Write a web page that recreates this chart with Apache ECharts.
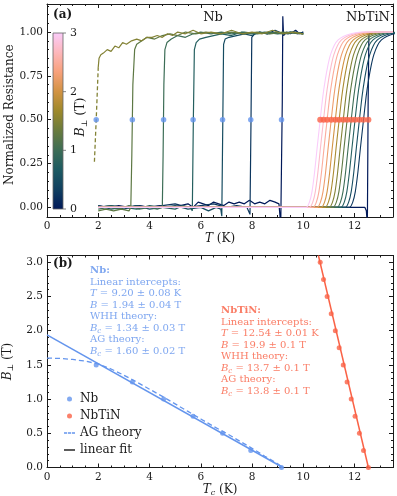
<!DOCTYPE html>
<html>
<head>
<meta charset="utf-8">
<script src="https://cdn.jsdelivr.net/npm/echarts@6/dist/echarts.min.js"></script>
<style>
    html, body {margin:0;padding:0;background:#fff;}
    #chart {width:397px;height:496px;}
</style>
</head>
<body>
<div id="chart"></div>
<script>
    // ---- colour scale (batlow) and field steps ----
    var batlowStops = ['#011959', '#103f60', '#1c5a62', '#3c6d56', '#687b3e', '#9d892b', '#d29343', '#f8a17b', '#fdb7bc', '#faccfa'];
    var fieldColors = ['#011959', '#0c365e', '#164c61', '#245f5f', '#3c6d56', '#5d7844', '#838235', '#aa8b31', '#d29343', '#ee9e6d', '#fbac9c', '#fcbccc', '#faccfa'];

    // ---- Nb : critical temperatures and fields ----
    var nbTc = [9.15, 7.95, 6.85, 5.70, 4.55, 3.33, 1.92];
    var nbField = [0, 0.25, 0.5, 0.75, 1.0, 1.25, 1.5];

    // ---- NbTiN : critical temperatures and fields ----
    var nbtinTc = [12.54, 12.35, 12.19, 12.02, 11.87, 11.71, 11.56, 11.40, 11.25, 11.09, 10.93, 10.79, 10.66];
    var nbtinField = [0, 0.25, 0.5, 0.75, 1.0, 1.25, 1.5, 1.75, 2.0, 2.25, 2.5, 2.75, 3.0];

    // ---- Nb resistance curves R(T), one per field ----
    var nbCurve0 = [[2.0,0.01],[2.4,0.0],[2.8,0.01],[3.2,0.0],[3.6,0.01],[4.0,0.0],[4.4,0.01],[4.8,0.0],[5.2,0.01],[5.5,0.02],[5.7,0.0],[5.9,0.03],[6.1,0.02],[6.3,0.01],[6.5,0.03],[6.7,0.02],[6.9,0.01],[7.1,0.03],[7.3,0.02],[7.5,0.03],[7.7,0.02],[7.9,0.04],[8.1,0.02],[8.3,0.03],[8.5,0.02],[8.7,0.04],[8.9,0.03],[9.05,0.02],[9.12,-0.1],[9.18,0.6],[9.2,1.09],[9.23,0.98],[9.35,1.0],[9.5,0.99],[9.7,1.01],[9.85,0.99],[10.0,1.0]];
    var nbCurve1 = [[2.0,0.0],[2.5,0.01],[3.0,-0.01],[3.5,0.01],[4.0,0.0],[4.5,0.01],[5.0,0.02],[5.5,0.0],[6.0,0.01],[6.5,0.02],[7.0,0.0],[7.4,0.01],[7.8,0.0],[7.92,-0.04],[7.96,0.5],[7.99,0.97],[8.1,0.99],[8.3,1.0],[8.6,0.99],[8.9,1.01],[9.2,0.99],[9.5,1.0],[9.8,0.99],[10.0,1.0]];
    var nbCurve2 = [[2.0,0.01],[2.5,-0.01],[3.0,0.0],[3.5,0.01],[4.0,-0.01],[4.5,0.0],[5.0,0.01],[5.5,-0.01],[6.0,0.0],[6.3,-0.02],[6.6,0.0],[6.78,-0.01],[6.82,-0.05],[6.86,0.5],[6.89,0.93],[6.95,0.96],[7.1,0.97],[7.4,0.98],[7.7,0.99],[8.0,0.98],[8.3,1.0],[8.6,0.99],[9.0,1.0],[9.4,0.99],[9.7,1.0],[10.0,0.99]];
    var nbCurve3 = [[2.0,0.0],[2.5,0.01],[3.0,0.0],[3.5,-0.01],[4.0,0.01],[4.5,0.0],[5.0,-0.01],[5.3,0.01],[5.6,0.0],[5.67,-0.02],[5.71,0.5],[5.75,0.9],[5.82,0.94],[5.95,0.96],[6.2,0.97],[6.5,0.98],[6.8,0.99],[7.2,0.98],[7.6,1.0],[8.0,0.99],[8.5,1.0],[9.0,0.99],[9.5,1.0],[10.0,0.99]];
    var nbCurve4 = [[2.0,-0.01],[2.4,0.0],[2.8,-0.01],[3.2,0.01],[3.6,-0.01],[4.0,0.0],[4.3,-0.01],[4.5,0.0],[4.53,0.3],[4.56,0.7],[4.6,0.9],[4.68,0.94],[4.85,0.96],[5.1,0.98],[5.4,0.97],[5.7,0.99],[6.0,1.0],[6.4,0.99],[6.8,1.0],[7.2,0.99],[7.7,1.0],[8.2,0.99],[8.7,1.0],[9.2,0.99],[9.6,1.0],[10.0,0.99]];
    var nbCurve5 = [[2.0,-0.02],[2.3,-0.01],[2.6,-0.02],[2.9,-0.01],[3.2,-0.02],[3.27,0.0],[3.31,0.3],[3.35,0.7],[3.42,0.9],[3.5,0.93],[3.7,0.95],[3.9,0.97],[4.2,0.96],[4.5,0.98],[4.8,0.99],[5.1,0.98],[5.4,1.0],[5.8,0.99],[6.2,1.0],[6.7,0.99],[7.2,1.0],[7.7,0.99],[8.2,1.0],[8.7,0.99],[9.2,1.0],[10.0,0.99]];
    var nbCurve6 = [[2.0,0.8],[2.03,0.85],[2.1,0.87],[2.2,0.88],[2.35,0.9],[2.5,0.89],[2.65,0.92],[2.8,0.91],[2.95,0.94],[3.1,0.93],[3.3,0.95],[3.5,0.96],[3.7,0.95],[3.9,0.97],[4.1,0.97],[4.3,0.98],[4.5,0.97],[4.7,0.99],[4.9,0.98],[5.1,1.0],[5.4,0.99],[5.7,1.01],[6.0,0.99],[6.4,1.0],[6.8,0.99],[7.2,1.01],[7.6,0.99],[8.0,1.0],[8.4,0.99],[8.8,1.01],[9.2,0.99],[9.6,1.0],[10.0,0.99]];
    var nbCurve6Extrap = [[1.85,0.26],[1.92,0.5],[2.0,0.8]];
    var nbCurves = [nbCurve0, nbCurve1, nbCurve2, nbCurve3, nbCurve4, nbCurve5, nbCurve6];

    // ---- NbTiN transitions: zero-field curve and the common transition shape (T - Tc, R) ----
    var nbtinCurve0 = [[2.0,0.0],[12.4,0.0],[12.46,-0.02],[12.5,-0.1],[12.53,0.6],[12.56,0.99],[12.8,1.0],[13.5,1.0]];
    var nbtinShapeDT = [-0.55, -0.42, -0.32, -0.22, -0.12, 0, 0.1, 0.2, 0.3, 0.4, 0.55, 0.7, 0.9, 1.2, 1.6];
    var nbtinShapeR = [0, 0.03, 0.09, 0.2, 0.34, 0.5, 0.63, 0.73, 0.81, 0.87, 0.925, 0.955, 0.975, 0.99, 1.0];

    // ---- panel (b): fits and AG theory ----
    var nbFitT = [0, 9.20];
    var nbFitB = [1.94, 0];
    var nbtinFitT = [10.59, 12.54];
    var nbtinFitB = [3.1, 0];
    var agT = [0, 0.5, 1.0, 1.5, 2.0, 2.5, 3.0, 3.5, 4.0, 4.5, 5.0, 5.5, 6.0, 6.5, 7.0, 7.5, 8.0, 8.5, 9.0, 9.2];
    var agB = [1.60, 1.595, 1.58, 1.555, 1.515, 1.44, 1.35, 1.25, 1.145, 1.04, 0.93, 0.82, 0.71, 0.60, 0.50, 0.39, 0.28, 0.165, 0.055, 0];

    // ---- tick labels ----
    var resTicks = [0, 0.25, 0.5, 0.75, 1.0];
    var fieldTicks = [0, 1, 2, 3];

    var serif = 'DejaVu Serif';
    var ink = '#1a1a1a';
    var nbBlue = '#6495ed';
    var nbtinRed = '#fa6246';

    // panel (a) resistance axis range; a tick grid whose bottom sits at R = 0 carries the ticks
    var resMin = -0.055, resMax = 1.16;
    var gridA = {left: 47, top: 4, width: 346, height: 213, outerBoundsMode: 'none'};
    var pxPerRes = gridA.height / (resMax - resMin);

    function zip(xs, ys) {
        return xs.map(function (x, i) { return [x, ys[i]]; });
    }

    function nbtinCurve(tc) {
        var pts = [[2.0, 0.0]];
        for (var k = 0; k < nbtinShapeDT.length; k++) {
            pts.push([tc + nbtinShapeDT[k], nbtinShapeR[k]]);
        }
        if (tc + nbtinShapeDT[nbtinShapeDT.length - 1] < 13.5) pts.push([13.5, 1.0]);
        return pts;
    }

    var line = {show: true, onZero: false, lineStyle: {color: ink, width: 1}};
    var noLine = {show: false, onZero: false};
    var majorTick = {inside: true, length: 4, lineStyle: {color: ink}};
    var minorTick = {inside: true, length: 2, lineStyle: {color: ink}};
    var tickFont = {fontFamily: serif, fontSize: 10.5, color: ink};

    // four framing axes (two with labels) for each grid
    function xAxesFor(g, name, gap) {
        var base = {type: 'value', gridIndex: g, min: 0, max: 13.5, splitLine: {show: false}};
        return [
            Object.assign({}, base, {
                position: 'bottom', interval: 2, axisLine: line, axisTick: majorTick,
                axisLabel: Object.assign({margin: 4, showMaxLabel: false}, tickFont),
                name: name, nameLocation: 'middle', nameGap: gap,
                nameTextStyle: {fontFamily: serif, fontSize: 12, color: ink, rich: {
                    i: {fontFamily: serif, fontSize: 12, fontStyle: 'italic', color: ink},
                    s: {fontFamily: serif, fontSize: 8, fontStyle: 'italic', color: ink, padding: [7, 0, 0, 0]}
                }}
            }),
            Object.assign({}, base, {position: 'top', interval: 2, axisLine: line, axisTick: majorTick, axisLabel: {show: false}}),
            Object.assign({}, base, {position: 'bottom', interval: 0.5, axisLine: noLine, axisTick: minorTick, axisLabel: {show: false}}),
            Object.assign({}, base, {position: 'top', interval: 0.5, axisLine: noLine, axisTick: minorTick, axisLabel: {show: false}})
        ];
    }

    var yNameStyle = {fontFamily: serif, fontSize: 12, color: ink, rich: {
        i: {fontFamily: serif, fontSize: 12, fontStyle: 'italic', color: ink},
        s: {fontFamily: serif, fontSize: 8, color: ink, padding: [7, 0, 0, 0]}
    }};

    function resTickAxis(pos, step, len) {
        return {type: 'value', gridIndex: 2, position: pos, min: 0, max: resMax, interval: step,
            splitLine: {show: false}, axisLine: noLine,
            axisTick: {inside: true, length: len, lineStyle: {color: ink}}, axisLabel: {show: false}};
    }

    var yAxes = [
        // 0,1: panel (a) data axes (frame only)
        {type: 'value', gridIndex: 0, position: 'left', min: resMin, max: resMax, splitLine: {show: false},
            axisLine: line, axisTick: {show: false}, axisLabel: {show: false}},
        {type: 'value', gridIndex: 0, position: 'right', min: resMin, max: resMax, splitLine: {show: false},
            axisLine: line, axisTick: {show: false}, axisLabel: {show: false}},
        // 2-5: panel (b)
        {type: 'value', gridIndex: 1, position: 'left', min: 0, max: 3.1, interval: 0.5, splitLine: {show: false},
            axisLine: line, axisTick: majorTick,
            axisLabel: Object.assign({margin: 4, showMaxLabel: false, formatter: function (v) { return v.toFixed(1); }}, tickFont),
            name: '{i|B}{s|⊥} (T)', nameLocation: 'middle', nameGap: 24, nameTextStyle: yNameStyle},
        {type: 'value', gridIndex: 1, position: 'right', min: 0, max: 3.1, interval: 0.5, splitLine: {show: false},
            axisLine: line, axisTick: majorTick, axisLabel: {show: false}},
        {type: 'value', gridIndex: 1, position: 'left', min: 0, max: 3.1, interval: 0.1, splitLine: {show: false},
            axisLine: noLine, axisTick: minorTick, axisLabel: {show: false}},
        {type: 'value', gridIndex: 1, position: 'right', min: 0, max: 3.1, interval: 0.1, splitLine: {show: false},
            axisLine: noLine, axisTick: minorTick, axisLabel: {show: false}},
        // 6-9: panel (a) tick axes
        resTickAxis('left', 0.25, 4),
        resTickAxis('right', 0.25, 4),
        resTickAxis('left', 0.05, 2),
        resTickAxis('right', 0.05, 2)
    ];

    var xAxes = xAxesFor(0, '{i|T} (K)', 15).concat(xAxesFor(1, '{i|T}{s|c} (K)', 13));
    // hidden x axis for the tick grid
    xAxes.push({type: 'value', gridIndex: 2, min: 0, max: 13.5, show: false});

    var series = [];
    // Nb curves (panel a)
    nbCurves.forEach(function (c, i) {
        series.push({name: 'nb-' + nbField[i], type: 'line', xAxisIndex: 0, yAxisIndex: 0, data: c,
            symbol: 'none', silent: true, lineStyle: {width: 1.2, color: fieldColors[i]}, z: 2});
    });
    series.push({name: 'nb-extrap', type: 'line', xAxisIndex: 0, yAxisIndex: 0, data: nbCurve6Extrap,
        symbol: 'none', silent: true, lineStyle: {width: 1.3, color: fieldColors[6], type: [4, 2.5]}, z: 2});
    // NbTiN curves (panel a)
    series.push({name: 'nbtin-0', type: 'line', xAxisIndex: 0, yAxisIndex: 0, data: nbtinCurve0,
        symbol: 'none', silent: true, lineStyle: {width: 1.2, color: fieldColors[0]}, z: 2});
    for (var k = 1; k < nbtinTc.length; k++) {
        series.push({name: 'nbtin-' + nbtinField[k], type: 'line', xAxisIndex: 0, yAxisIndex: 0,
            data: nbtinCurve(nbtinTc[k]), smooth: 0.2, symbol: 'none', silent: true,
            lineStyle: {width: 1.1, color: fieldColors[k]}, z: 2});
    }
    // half-resistance points (panel a)
    series.push({name: 'nb-half', type: 'scatter', xAxisIndex: 0, yAxisIndex: 0, symbolSize: 5.5,
        data: nbTc.map(function (t) { return [t, 0.5]; }), itemStyle: {color: nbBlue}, z: 4});
    series.push({name: 'nbtin-half', type: 'scatter', xAxisIndex: 0, yAxisIndex: 0, symbolSize: 6,
        data: nbtinTc.map(function (t) { return [t, 0.5]; }), itemStyle: {color: nbtinRed}, z: 4});

    // panel (b)
    series.push({name: 'nb-fit', type: 'line', xAxisIndex: 4, yAxisIndex: 2, data: zip(nbFitT, nbFitB),
        symbol: 'none', lineStyle: {width: 1.5, color: nbBlue}, z: 2});
    series.push({name: 'AG theory', type: 'line', xAxisIndex: 4, yAxisIndex: 2, data: zip(agT, agB),
        symbol: 'none', color: nbBlue, lineStyle: {width: 1.3, color: nbBlue, type: [5, 3]}, z: 2});
    series.push({name: 'nbtin-fit', type: 'line', xAxisIndex: 4, yAxisIndex: 2, data: zip(nbtinFitT, nbtinFitB),
        symbol: 'none', lineStyle: {width: 1.5, color: nbtinRed}, z: 2});
    series.push({name: 'Nb', type: 'scatter', xAxisIndex: 4, yAxisIndex: 2, symbolSize: 5,
        data: zip(nbTc, nbField), itemStyle: {color: nbBlue}, z: 4});
    series.push({name: 'NbTiN', type: 'scatter', xAxisIndex: 4, yAxisIndex: 2, symbolSize: 5,
        data: zip(nbtinTc, nbtinField), itemStyle: {color: nbtinRed}, z: 4});
    series.push({name: 'linear fit', type: 'line', xAxisIndex: 4, yAxisIndex: 2, data: [],
        symbol: 'none', color: '#000', lineStyle: {width: 1.5, color: '#000'}});

    var chart = echarts.init(document.getElementById('chart'));
    chart.setOption({
        animation: false,
        backgroundColor: '#fff',
        grid: [
            gridA,
            {left: 47, top: 255.5, width: 346, height: 212, outerBoundsMode: 'none'},
            {left: gridA.left, top: gridA.top, width: gridA.width, height: resMax * pxPerRes, outerBoundsMode: 'none'}
        ],
        xAxis: xAxes,
        yAxis: yAxes,
        legend: {
            orient: 'vertical', left: 59, top: 388, itemWidth: 11, itemHeight: 5, itemGap: 5,
            textStyle: {fontFamily: serif, fontSize: 12, color: ink, lineHeight: 12},
            data: [
                {name: 'Nb', icon: 'circle'},
                {name: 'NbTiN', icon: 'circle'},
                {name: 'AG theory', icon: 'path://M0,0h3.4v1.4h-3.4z M4.3,0h3.4v1.4h-3.4z M8.6,0h3.4v1.4h-3.4z'},
                {name: 'linear fit', icon: 'path://M0,0h12v1.4h-12z'}
            ],
            selectedMode: false
        },
        series: series
    });

    // resistance tick labels and axis title placed through the panel (a) axes
    var resLabels = resTicks.map(function (v) {
        var p = chart.convertToPixel({xAxisIndex: 0, yAxisIndex: 0}, [0, v]);
        return {type: 'text', x: p[0] - 4, y: p[1], zlevel: 1, z: 100, silent: true,
            style: {text: '{n|' + v.toFixed(2) + '}', align: 'right', verticalAlign: 'middle',
                rich: {n: {font: '10.5px "DejaVu Serif"', fill: ink}}}};
    });
    var midA = chart.convertToPixel({xAxisIndex: 0, yAxisIndex: 0}, [0, 0.5]);
    resLabels.push({type: 'text', x: 10, y: midA[1] - 5, rotation: Math.PI / 2, zlevel: 1, z: 100, silent: true,
        style: {text: 'Normalized Resistance', font: '12px "DejaVu Serif"', fill: ink, align: 'center', verticalAlign: 'middle'}});

    // colour bar for the field
    var barTop = 33, barH = 176, barX = 53, barW = 10;
    var cbar = [{
        type: 'rect', shape: {x: barX, y: barTop, width: barW, height: barH},
        style: {fill: new echarts.graphic.LinearGradient(0, 1, 0, 0, batlowStops.map(function (c, i) {
            return {offset: i / (batlowStops.length - 1), color: c};
        })), stroke: '#666', lineWidth: 0.8}, z: 10
    }];
    fieldTicks.forEach(function (f) {
        var y = barTop + barH - f / 3 * barH;
        cbar.push({type: 'line', shape: {x1: barX + barW, y1: y, x2: barX + barW + 3, y2: y},
            style: {stroke: '#666', lineWidth: 0.8}, z: 10});
        cbar.push({type: 'text', x: barX + barW + 7, y: y,
            style: {text: String(f), font: '11px "DejaVu Serif"', fill: ink, verticalAlign: 'middle'}, z: 10});
    });
    cbar.push({type: 'text', x: 81, y: 117, rotation: Math.PI / 2,
        style: {text: '{i|B}{s|⊥} (T)', align: 'center', verticalAlign: 'middle', font: '12.5px "DejaVu Serif"', fill: ink,
            rich: {i: {font: 'italic 12.5px "DejaVu Serif"', fill: ink}, s: {font: '8px "DejaVu Serif"', fill: ink, padding: [7, 0, 0, 0]}}}, z: 10});

    var annRich = function (col) {
        return {
            b: {font: 'bold 10px "DejaVu Serif"', fill: col, lineHeight: 11.5},
            i: {font: 'italic 10px "DejaVu Serif"', fill: col, lineHeight: 11.5},
            s: {font: 'italic 7px "DejaVu Serif"', fill: col, lineHeight: 11.5, padding: [5, 0, 0, 0]}
        };
    };
    var labels = [
        {type: 'text', x: 53, y: 15, style: {text: '(a)', font: 'bold 12px "DejaVu Serif"', fill: ink, verticalAlign: 'middle'}, z: 10},
        {type: 'text', x: 53, y: 264, style: {text: '(b)', font: 'bold 12px "DejaVu Serif"', fill: ink, verticalAlign: 'middle'}, z: 10},
        {type: 'text', x: 213, y: 18, style: {text: 'Nb', font: '13px "DejaVu Serif"', fill: ink, align: 'center', verticalAlign: 'middle'}, z: 10},
        {type: 'text', x: 368, y: 18, style: {text: 'NbTiN', font: '13px "DejaVu Serif"', fill: ink, align: 'center', verticalAlign: 'middle'}, z: 10},
        {type: 'text', x: 90, y: 265, style: {
            text: '{b|Nb:}\nLinear intercepts:\n{i|T} = 9.20 ± 0.08 K\n{i|B} = 1.94 ± 0.04 T\nWHH theory:\n{i|B}{s|c} = 1.34 ± 0.03 T\nAG theory:\n{i|B}{s|c} = 1.60 ± 0.02 T',
            font: '10px "DejaVu Serif"', fill: '#7fa7f0', lineHeight: 11.5, rich: annRich('#7fa7f0')}, z: 10},
        {type: 'text', x: 221, y: 305, style: {
            text: '{b|NbTiN:}\nLinear intercepts:\n{i|T} = 12.54 ± 0.01 K\n{i|B} = 19.9 ± 0.1 T\nWHH theory:\n{i|B}{s|c} = 13.7 ± 0.1 T\nAG theory:\n{i|B}{s|c} = 13.8 ± 0.1 T',
            font: '10px "DejaVu Serif"', fill: '#fa7d66', lineHeight: 11.5, rich: annRich('#fa7d66')}, z: 10}
    ];

    chart.setOption({graphic: resLabels.concat(cbar, labels)});
</script>
</body>
</html>
